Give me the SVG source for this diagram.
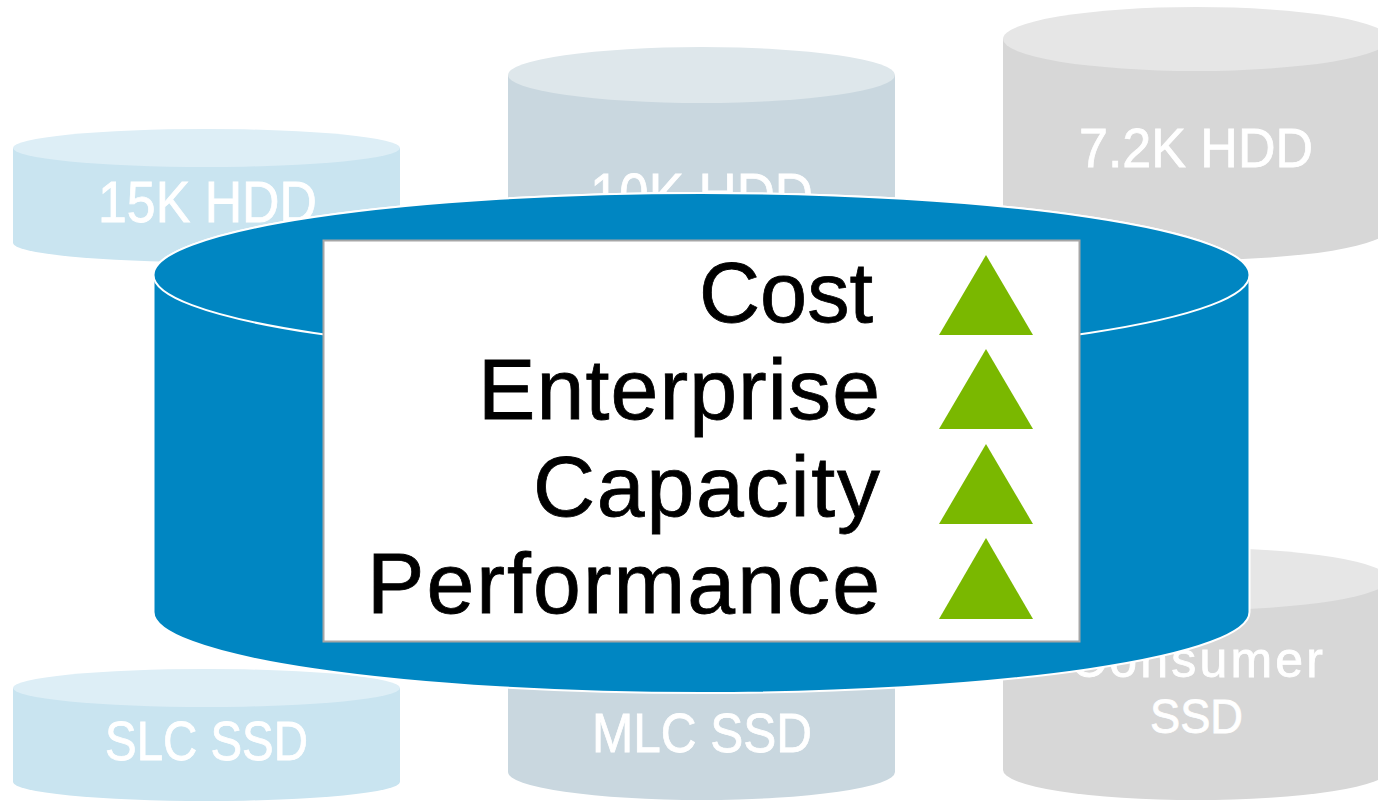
<svg xmlns="http://www.w3.org/2000/svg" width="1378" height="801" viewBox="0 0 1378 801">
<style>
.lbl{font-family:"Liberation Sans",Arial,sans-serif;fill:#ffffff;stroke:#ffffff;stroke-width:0.8}
.main{font-family:"Liberation Sans",Arial,sans-serif;fill:#000000;stroke:#000000;stroke-width:0.8;font-size:86px}
.tri{fill:#7AB800}
.lb-top{fill:#DDEEF6}.lb-body{fill:#C9E4F0}
.gb-top{fill:#DEE7EB}.gb-body{fill:#C9D7DF}
.gr-top{fill:#E6E6E6}.gr-body{fill:#D7D7D7}
</style>
<rect width="1378" height="801" fill="#ffffff"/>
<g id="hdd15k">
<path class="lb-body" d="M13,148 V243 A193.5,19 0 0 0 400,243 V148 Z"/>
<ellipse class="lb-top" cx="206.5" cy="148" rx="193.5" ry="19"/>
<text class="lbl" x="98" y="222" font-size="57" textLength="219" lengthAdjust="spacingAndGlyphs">15K HDD</text>
</g>
<g id="hdd10k">
<path class="gb-body" d="M508,75 V270 A193.5,28 0 0 0 895,270 V75 Z"/>
<ellipse class="gb-top" cx="701.5" cy="75" rx="193.5" ry="28"/>
<text class="lbl" x="590" y="214" font-size="57" textLength="223" lengthAdjust="spacingAndGlyphs">10K HDD</text>
</g>
<g id="hdd72k">
<path class="gr-body" d="M1003,39 V228 A193,32 0 0 0 1389,228 V39 Z"/>
<ellipse class="gr-top" cx="1196" cy="39" rx="193" ry="32"/>
<text class="lbl" x="1079" y="167" font-size="56" textLength="234" lengthAdjust="spacingAndGlyphs">7.2K HDD</text>
</g>
<g id="ssdslc">
<path class="lb-body" d="M13,688 V782 A193.5,19 0 0 0 400,782 V688 Z"/>
<ellipse class="lb-top" cx="206.5" cy="688" rx="193.5" ry="19"/>
<text class="lbl" x="105" y="760" font-size="55" textLength="203" lengthAdjust="spacingAndGlyphs">SLC SSD</text>
</g>
<g id="ssdmlc">
<path class="gb-body" d="M508,620 V772 A193.5,28 0 0 0 895,772 V620 Z"/>
<ellipse class="gb-top" cx="701.5" cy="620" rx="193.5" ry="28"/>
<text class="lbl" x="592" y="752" font-size="56" textLength="220" lengthAdjust="spacingAndGlyphs">MLC SSD</text>
</g>
<g id="ssdconsumer">
<path class="gr-body" d="M1003,579 V770 A193,30 0 0 0 1389,770 V579 Z"/>
<ellipse class="gr-top" cx="1196" cy="579" rx="193" ry="31"/>
<text class="lbl" x="1070" y="677" font-size="50" textLength="253" lengthAdjust="spacing">Consumer</text>
<text class="lbl" x="1150" y="733" font-size="48" textLength="93" lengthAdjust="spacingAndGlyphs">SSD</text>
</g>
<g id="tier">
<path d="M153.5,275 V612 A548,81 0 0 0 1249.5,612 V275 A548,82 0 0 0 153.5,275 Z" fill="#0086C2" stroke="#ffffff" stroke-width="2"/>
<ellipse cx="701.5" cy="275" rx="548" ry="82" fill="#0086C2" stroke="#ffffff" stroke-width="2"/>
</g>
<g id="panel">
<rect x="323.5" y="240.5" width="756" height="401" fill="#ffffff" stroke="#A6A6A6" stroke-width="2"/>
<text class="main" x="699" y="322" textLength="174" lengthAdjust="spacingAndGlyphs">Cost</text>
<text class="main" x="478" y="419" textLength="402" lengthAdjust="spacing">Enterprise</text>
<text class="main" x="533" y="516" textLength="347" lengthAdjust="spacing">Capacity</text>
<text class="main" x="367" y="613" textLength="513" lengthAdjust="spacing">Performance</text>
<polygon class="tri" points="986,255 1033,335 939,335"/>
<polygon class="tri" points="986,349 1033,429 939,429"/>
<polygon class="tri" points="986,444 1033,524 939,524"/>
<polygon class="tri" points="986,538 1033,619 939,619"/>
</g>
</svg>
